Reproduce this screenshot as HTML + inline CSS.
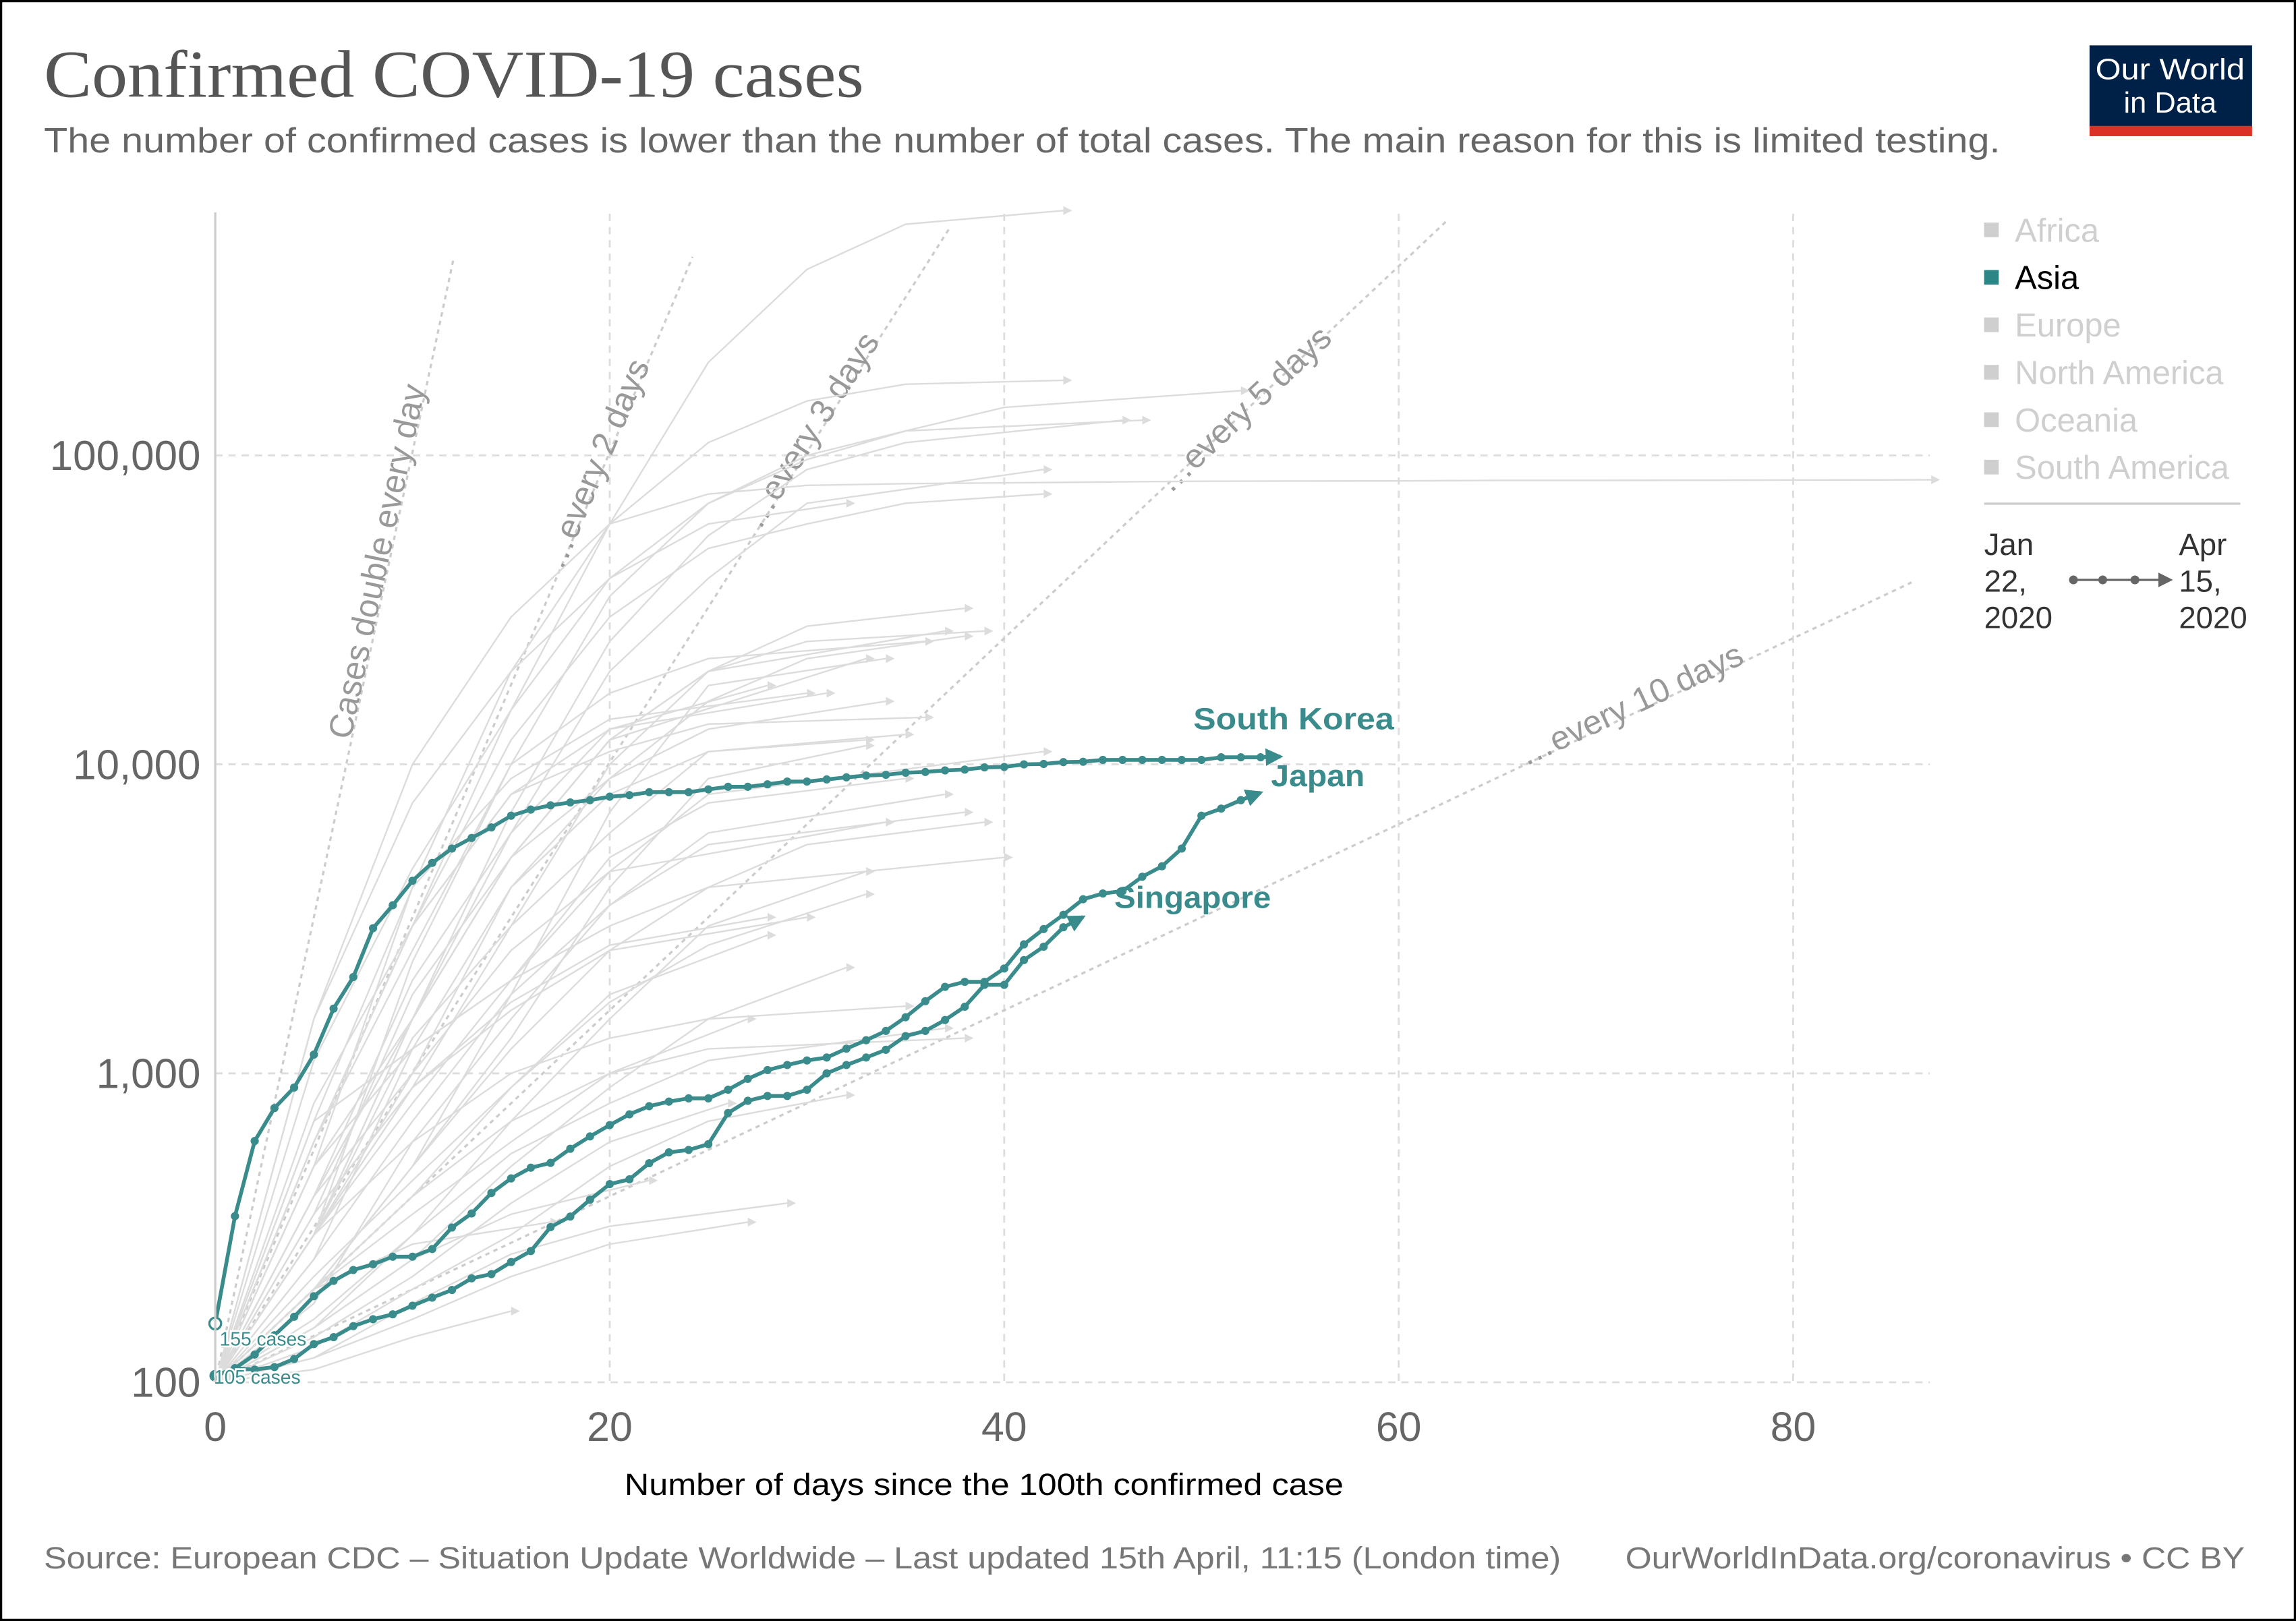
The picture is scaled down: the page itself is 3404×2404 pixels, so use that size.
<!DOCTYPE html>
<html><head><meta charset="utf-8">
<style>
html,body{margin:0;padding:0;background:#fff;}
svg{display:block;}
text{font-family:"Liberation Sans",Arial,sans-serif;}
</style></head>
<body>
<svg id="chart" width="3404" height="2404" viewBox="0 0 1568 1107" preserveAspectRatio="none" xmlns="http://www.w3.org/2000/svg">
<rect x="0.75" y="0.75" width="1566.5" height="1105.5" fill="#fff" stroke="#000" stroke-width="1.5"/>
<text x="30" y="66" font-size="46" fill="#555" style="font-family:'Liberation Serif',serif" textLength="560" lengthAdjust="spacingAndGlyphs">Confirmed COVID-19 cases</text>
<text x="30" y="104" font-size="24" fill="#666" textLength="1336" lengthAdjust="spacingAndGlyphs">The number of confirmed cases is lower than the number of total cases. The main reason for this is limited testing.</text>
<g>
<rect x="1427" y="31" width="111" height="56" fill="#002147"/>
<rect x="1427" y="86" width="111" height="7" fill="#dc3226"/>
<text x="1482" y="54" font-size="20" fill="#fff" text-anchor="middle" textLength="102" lengthAdjust="spacingAndGlyphs">Our World</text>
<text x="1482" y="77" font-size="20" fill="#fff" text-anchor="middle">in Data</text>
</g>
<g id="grid"></g>
<g id="guides"></g>
<g id="bg"></g>
<g id="hl"></g>
<g id="axes"></g>
<text x="672" y="1021" font-size="21" fill="#000" text-anchor="middle" textLength="491" lengthAdjust="spacingAndGlyphs">Number of days since the 100th confirmed case</text>
<text x="30" y="1071" font-size="21" fill="#777" textLength="1036" lengthAdjust="spacingAndGlyphs">Source: European CDC – Situation Update Worldwide – Last updated 15th April, 11:15 (London time)</text>
<text x="1533" y="1071" font-size="21" fill="#777" text-anchor="end" textLength="423" lengthAdjust="spacingAndGlyphs">OurWorldInData.org/coronavirus • CC BY</text>
<g id="legend"></g>
<g>
<text x="1355" y="379" font-size="21" fill="#333">Jan</text>
<text x="1355" y="404" font-size="21" fill="#333">22,</text>
<text x="1355" y="429" font-size="21" fill="#333">2020</text>
<text x="1488" y="379" font-size="21" fill="#333">Apr</text>
<text x="1488" y="404" font-size="21" fill="#333">15,</text>
<text x="1488" y="429" font-size="21" fill="#333">2020</text>
<line x1="1416" y1="396" x2="1476" y2="396" stroke="#666" stroke-width="1.5"/>
<circle cx="1416" cy="396" r="3" fill="#666"/><circle cx="1436" cy="396" r="3" fill="#666"/><circle cx="1458" cy="396" r="3" fill="#666"/>
<polygon points="1474,391 1484,396 1474,401" fill="#666"/>
</g>
</svg>
<script>
const NS="http://www.w3.org/2000/svg";
const xTicks=[0,20,40,60,80];
const yTicks=[100,1000,10000,100000];
const yTickLabels=["100","1,000","10,000","100,000"];
const legendNames=["Africa","Asia","Europe","North America","Oceania","South America"];
const guideDays=[1,2,3,5,10];
const guideLabels=["Cases double every day","…every 2 days","…every 3 days","…every 5 days","…every 10 days"];
const southKorea=[155,345,604,772,900,1150,1620,2050,2950,3500,4200,4800,5340,5780,6250,6820,7140,7370,7530,7660,7860,7950,8130,8130,8130,8300,8460,8460,8620,8800,8800,8940,9080,9200,9250,9400,9450,9560,9620,9780,9810,10000,10030,10170,10200,10340,10340,10340,10340,10340,10340,10540,10540,10540,10600];
const japan=[105,111,123,142,163,190,213,231,241,255,255,270,317,352,410,457,495,513,570,625,680,737,783,810,830,830,885,960,1025,1064,1101,1125,1202,1280,1372,1519,1712,1905,1978,1978,2184,2615,2930,3260,3660,3820,3890,4330,4680,5340,6820,7190,7660,8100];
const singapore=[105,111,110,112,119,133,140,152,160,166,177,188,199,217,224,245,266,318,344,390,438,454,512,555,565,590,744,815,845,845,885,1000,1064,1125,1192,1320,1372,1488,1643,1934,1934,2326,2570,2970,3210];
// background series sampled every 5 days; last value is at the end day
const bgSeries=[
[100,600,3000,15000,60000,200000,400000,560000,620000],
[100,1100,4600,15000,40000,70000,97000,120000,143000,162000],
[100,500,4000,20000,60000,110000,150000,170000,175000],
[100,300,2300,10000,35000,70000,100000,120000,130000],
[100,400,1500,7000,25000,55000,90000,110000,130000],
[100,300,1500,6000,20000,40000,70000,90000],
[100,1500,10000,30000,60000,75000,80000,81000,81500,82000,82500,82600,82700,83000,83000,83100,83200,83300,83400],
[100,600,3000,12000,30000,50000,60000,70000,75000],
[100,1500,7500,20000,40000,60000,70000],
[100,300,900,3000,10000,20000,28000,32000],
[100,400,1500,5000,12000,20000,25000,27000],
[100,600,2500,10000,17000,22000,25000],
[100,300,1500,5000,12000,20000,27000],
[100,500,1500,5000,12000,22000],
[100,200,500,1800,7000,18000,22000],
[100,600,3000,8000,13000,17000],
[100,800,3000,8000,11000,13500,14200],
[100,300,1000,4000,8000,11000,12000],
[100,700,1200,2000,4500,8000,11000],
[100,300,1300,3000,6000,11000,12500],
[100,200,500,1300,4000,9000,11500],
[100,300,800,2000,5000,7500,9000],
[100,250,700,1800,3500,5500,7000],
[100,400,1000,2500,4500,6500],
[100,200,500,1200,2500,4000,5500,6500],
[100,150,300,700,1500,3000,4500],
[100,300,900,1600,2500,3200],
[100,200,400,900,1800,2800],
[100,150,250,500,900,1500,2200],
[100,200,350,600,1000,1500],
[100,130,200,300,500,700,850],
[100,150,250,350,450],
[100,120,160,220,280,330],
[100,110,140,170],
[100,400,2000,6000,13000,18000],
[100,700,4000,9000,14000,17000],
[100,250,1200,4000,9000,16000,22000,26000],
[100,350,1800,5000,9000,13000,16000],
[100,180,600,1500,3500,6000,8000],
[100,220,450,900,1700,2600,3800],
[100,160,300,550,800,1100,1400],
[100,140,220,380,600,800],
[100,300,600,1000,1300,1500,1650],
[100,200,400,700,1000,1200,1300],
[100,500,1200,2000,3000,4000,5000],
[100,350,900,1700,2600,3200],
[100,120,180,260,320,380],
[100,200,280,330]
];
const bgEndDays=[43,52,43,47,46,42,87,42,32,38,39,36,37,33,34,31,36,33,42,35,33,35,38,34,39,33,30,28,32,27,32,22,27,15,28,30,38,34,37,33,37,26,35,38,40,28,29,17];

const X0=147,XD=13.47,Y100=944,DEC=211;
function xs(d){return X0+d*XD;}
function ys(v){return Y100-DEC*Math.log10(v/100);}
function mk(tag,attrs,parent){const e=document.createElementNS(NS,tag);for(const k in attrs)e.setAttribute(k,attrs[k]);parent.appendChild(e);return e;}

const grid=document.getElementById('grid');
yTicks.forEach((v,i)=>{
  const l=mk('line',{x1:147,x2:1318,y1:ys(v),y2:ys(v),stroke:'#ddd','stroke-width':1.3,'stroke-dasharray':'5,4'},grid);
  
  
  const t=mk('text',{x:137,y:ys(v)+10,'font-size':28.5,fill:'#666','text-anchor':'end'},grid);
  t.textContent=yTickLabels[i];
  
  
});
xTicks.forEach(d=>{
  if(d>0){const l=mk('line',{x1:xs(d),x2:xs(d),y1:146,y2:944,stroke:'#ddd','stroke-width':1.3,'stroke-dasharray':'5,4'},grid);
  
  }
  const t=mk('text',{x:xs(d),y:984,'font-size':28,fill:'#666','text-anchor':'middle'},grid);
  t.textContent=String(d);
  
  
});
const axes=document.getElementById('axes');
const ya=mk('line',{x1:147,x2:147,y1:145,y2:944,stroke:'#ccc','stroke-width':1.5},axes);



const guides=document.getElementById('guides');
const labelPos=[[265,385],[414,320],[560,298],[855,285],[1117,488]];
guideDays.forEach((g,i)=>{
  let maxD=Math.min(86,g*(g>=5?12.5:(g==3?12.4:12.1)));
  if(g==10)maxD=86;
  const v=100*Math.pow(2,maxD/g);
  const l=mk('line',{x1:xs(0),y1:ys(100),x2:xs(maxD),y2:ys(v),stroke:'#ccc','stroke-width':1.5,'stroke-dasharray':'3,3'},guides);
  
  
  const ang=-Math.atan((DEC*Math.log10(2)/g)/XD)*180/Math.PI;
  const [lx,ly]=labelPos[i];
  const t=mk('text',{x:lx,y:ly,'font-size':23,fill:'#999','text-anchor':'middle',transform:`rotate(${ang} ${lx} ${ly})`},guides);
  t.textContent=guideLabels[i];
  
  
});

const bg=document.getElementById('bg');
bgSeries.forEach((s,i)=>{
  const end=bgEndDays[i];
  const pts=s.map((v,j)=>{const d=(j===s.length-1)?end:j*5;return xs(d)+','+ys(v);});
  const p=mk('polyline',{points:pts.join(' '),fill:'none',stroke:'#dcdcdc','stroke-width':1.1},bg);
  
  
  const ex=xs(end),ey=ys(s[s.length-1]);
  const a=mk('polygon',{points:`${ex},${ey-3} ${ex+6},${ey} ${ex},${ey+3}`,fill:'#dcdcdc'},bg);
  
  
});

const hl=document.getElementById('hl');
const TEAL='#3a8b8c';
function drawSeries(arr,name,label,lx,ly,tl){
  const g=mk('g',{},hl);
  
  
  const n=arr.length;
  const pts=arr.map((v,d)=>xs(d)+','+ys(v));
  mk('polyline',{points:pts.join(' '),fill:'none',stroke:TEAL,'stroke-width':2.6,'stroke-linejoin':'round'},g);
  arr.forEach((v,d)=>{if(d<n-1)mk('circle',{cx:xs(d),cy:ys(v),r:2.8,fill:TEAL},g);});
  const x1=xs(n-2),y1=ys(arr[n-2]),x2=xs(n-1),y2=ys(arr[n-1]);
  const ang=Math.atan2(y2-y1,x2-x1)*180/Math.PI;
  mk('polygon',{points:`${x2-10},${y2-6} ${x2+2},${y2} ${x2-10},${y2+6}`,fill:TEAL,transform:`rotate(${ang} ${x2} ${y2})`},g);
  const t=mk('text',{x:lx,y:ly,'font-size':21,'font-weight':'bold',fill:TEAL,textLength:tl,lengthAdjust:'spacingAndGlyphs'},g);
  t.textContent=label;
  
  
}
drawSeries(singapore,'singapore','Singapore',761,620,107);
drawSeries(japan,'japan','Japan',868,537,64);
drawSeries(southKorea,'south-korea','South Korea',815,498,137);
const c1=mk('circle',{cx:xs(0),cy:ys(southKorea[0]),r:4,fill:'#fff',stroke:TEAL,'stroke-width':1.5},hl);


const c2=mk('circle',{cx:xs(0),cy:ys(japan[0]),r:4,fill:TEAL},hl);


const s1=mk('text',{x:150,y:919,'font-size':13,fill:TEAL,stroke:'#fff','stroke-width':2.5,'paint-order':'stroke'},hl);
s1.textContent='155 cases';


const s2=mk('text',{x:146,y:945,'font-size':13,fill:TEAL,stroke:'#fff','stroke-width':2.5,'paint-order':'stroke'},hl);
s2.textContent='105 cases';



const lg=document.getElementById('legend');
legendNames.forEach((n,i)=>{
  const y=157+i*32.4;
  const g=mk('g',{},lg);
  
  
  const active=n==='Asia';
  mk('rect',{x:1355,y:y-5,width:10,height:10,fill:active?'#2e8585':'#cfcfcf'},g);
  const t=mk('text',{x:1376,y:y+8,'font-size':22.5,fill:active?'#000':'#cfcfcf'},g);
  t.textContent=n;
});
const sep=mk('line',{x1:1355,x2:1530,y1:344,y2:344,stroke:'#ccc','stroke-width':1.5},lg);


</script>
</body></html>
